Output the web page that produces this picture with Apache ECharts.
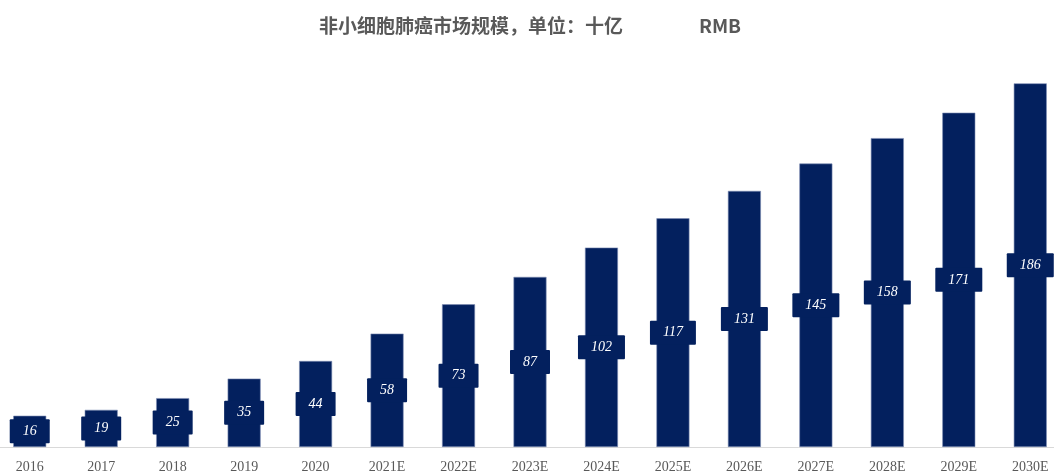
<!DOCTYPE html>
<html>
<head>
<meta charset="utf-8">
<script src="https://cdn.jsdelivr.net/npm/echarts@6/dist/echarts.min.js"></script>
<style>
  html, body { margin: 0; padding: 0; background: #ffffff; overflow: hidden; }
  #wrap { width: 1054px; height: 471px; overflow: hidden; position: relative; }
  /* plot runs slightly past both edges of the frame */
  #chart { width: 1072px; height: 471px; position: absolute; left: -6px; top: 0; }
</style>
</head>
<body>
<div id="wrap"><div id="chart"></div></div>
<script>
// Years on the category axis
const years = ['2016', '2017', '2018', '2019', '2020', '2021E', '2022E', '2023E', '2024E',
  '2025E', '2026E', '2027E', '2028E', '2029E', '2030E'];
// Market size, billion RMB
const marketSize = [16, 19, 25, 35, 44, 58, 73, 87, 102, 117, 131, 145, 158, 171, 186];

const titleText = '非小细胞肺癌市场规模，单位：十亿' + '\u3000\u3000\u3000\u3000' + 'RMB';
const barColor = '#03205e';

const chart = echarts.init(document.getElementById('chart'), null, { renderer: 'canvas' });
chart.setOption({
  animation: false,
  backgroundColor: '#ffffff',
  title: {
    text: titleText,
    left: 'center',
    top: 11,
    textStyle: {
      color: '#595959',
      fontFamily: '"Noto Sans CJK SC", "Liberation Serif", serif',
      fontSize: 19,
      fontWeight: 'bold'
    }
  },
  grid: { left: 0, right: 0, top: 56, bottom: 24, containLabel: false, outerBoundsMode: 'none' },
  xAxis: {
    type: 'category',
    data: years,
    axisTick: { show: false },
    axisLine: { lineStyle: { color: '#d9d9d9', width: 1 } },
    axisLabel: {
      color: '#595959',
      fontFamily: '"Liberation Serif", "Times New Roman", serif',
      fontSize: 14,
      margin: 13,
      interval: 0
    }
  },
  yAxis: {
    type: 'value',
    min: 0,
    max: 200,
    show: false,
    splitLine: { show: false }
  },
  series: [{
    type: 'bar',
    data: marketSize,
    barWidth: 33,
    itemStyle: { color: barColor, borderColor: '#7d8db3', borderWidth: 0.6 },
    label: {
      show: true,
      position: 'inside',
      color: '#ffffff',
      fontFamily: '"Liberation Serif", "Times New Roman", serif',
      fontStyle: 'italic',
      fontSize: 14,
      backgroundColor: barColor,
      borderRadius: 1,
      padding: [5, 13, 5, 13]
    }
  }]
});
</script>
</body>
</html>
